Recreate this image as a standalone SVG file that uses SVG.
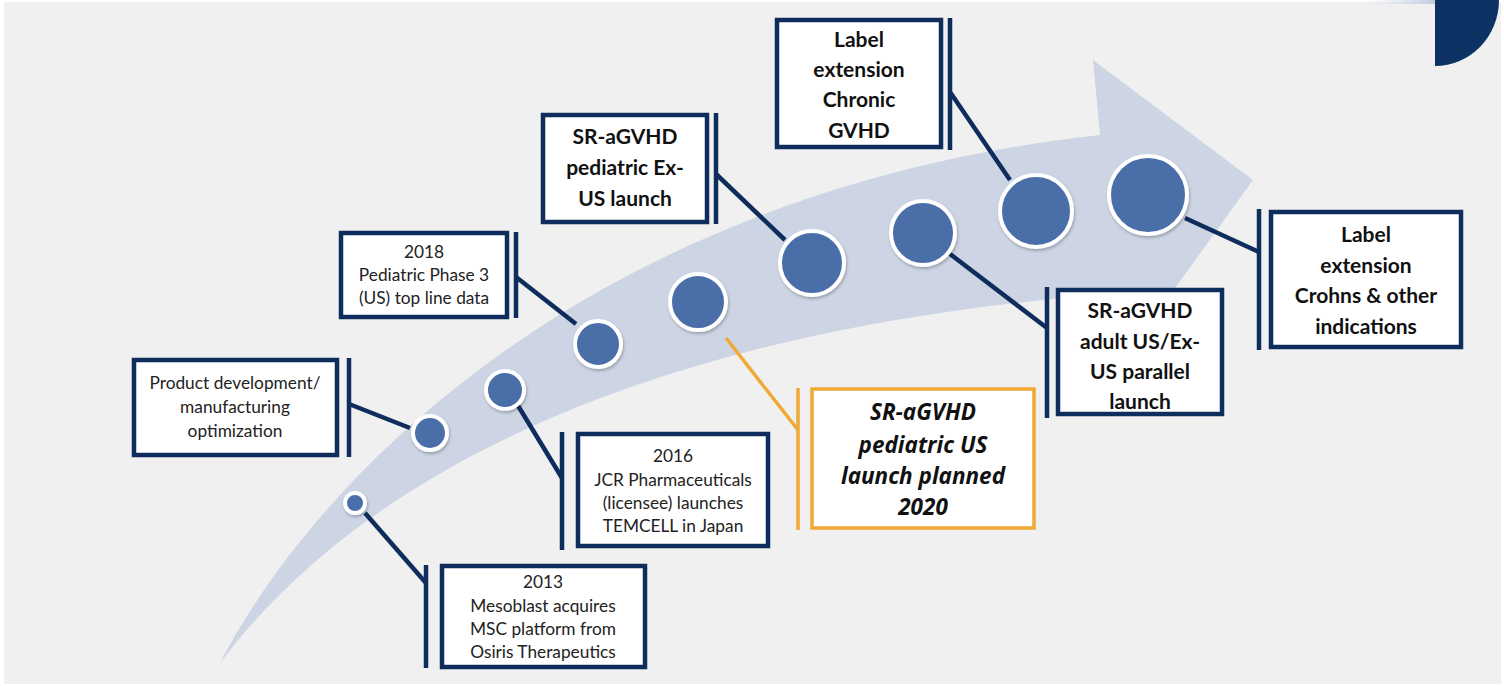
<svg xmlns="http://www.w3.org/2000/svg" width="1504" height="686" viewBox="0 0 1504 686">
<style>
.box{fill:#ffffff;stroke:#0f2d5c;stroke-width:4.5}
.ybox{fill:#ffffff;stroke:#f0a935;stroke-width:3.5}
.bar{stroke:#0f2d5c;stroke-width:4.5;fill:none}
.ybar{stroke:#f0a935;stroke-width:3.5;fill:none}
.dot{fill:#4a6ea8;stroke:#ffffff;stroke-width:4}
.t{font-family:Lato,"Liberation Sans",sans-serif;font-size:17.3px;fill:#222;text-anchor:middle}
.b{font-family:Lato,"Liberation Sans",sans-serif;font-size:21px;font-weight:bold;fill:#111;text-anchor:middle}
.bi{font-family:"Open Sans","Liberation Sans",sans-serif;font-size:22.5px;font-weight:bold;font-style:italic;fill:#111;text-anchor:middle}
</style>
<defs>
<filter id="sh" x="-30%" y="-30%" width="160%" height="160%"><feDropShadow dx="1" dy="2" stdDeviation="1.5" flood-color="#000" flood-opacity="0.25"/></filter>
<linearGradient id="strip" x1="0" x2="1" y1="0" y2="0"><stop offset="0" stop-color="#dfe5ee" stop-opacity="0"/><stop offset="1" stop-color="#b8c6db"/></linearGradient>
</defs>
<rect x="0" y="0" width="1504" height="686" fill="#ffffff"/>
<rect x="4" y="2" width="1497" height="682" fill="#f0f0f0"/>
<rect x="1360" y="0" width="80" height="4" fill="url(#strip)"/>
<path d="M1435,0 L1499,0 A64,66 0 0 1 1435,66 Z" fill="#0c3163"/>
<path id="band" d="M220,663 C320,470 600,190 1100,135 L1093,60 L1253,180 L1165,302 L1140,292 C700,320 380,450 220,663 Z" fill="#cdd5e4"/>
<g id="connectors">
<line class="bar" x1="349" y1="358" x2="349" y2="457"/>
<line class="bar" x1="349" y1="404" x2="410" y2="428"/>
<line class="bar" x1="516" y1="232" x2="516" y2="318"/>
<line class="bar" x1="516" y1="277" x2="576" y2="324"/>
<line class="bar" x1="562" y1="432" x2="562" y2="550"/>
<line class="bar" x1="517" y1="404" x2="562" y2="478"/>
<line class="bar" x1="426" y1="565" x2="426" y2="668"/>
<line class="bar" x1="365" y1="513" x2="426" y2="583"/>
<line class="bar" x1="716" y1="113" x2="716" y2="224"/>
<line class="bar" x1="716" y1="174" x2="785" y2="240"/>
<line class="bar" x1="950" y1="18" x2="950" y2="150"/>
<line class="bar" x1="950" y1="92" x2="1010" y2="180"/>
<line class="bar" x1="1047" y1="287" x2="1047" y2="418"/>
<line class="bar" x1="950" y1="254" x2="1047" y2="328"/>
<line class="bar" x1="1259" y1="209" x2="1259" y2="350"/>
<line class="bar" x1="1185" y1="218" x2="1259" y2="252"/>
<line class="ybar" x1="798" y1="388" x2="798" y2="530"/>
<line class="ybar" x1="726" y1="338" x2="798" y2="430"/>
</g>
<g id="dots" filter="url(#sh)">
<circle id="d1" class="dot" cx="355" cy="503" r="10" stroke-width="3.5"/>
<circle id="d2" class="dot" cx="430" cy="433" r="17"/>
<circle id="d3" class="dot" cx="505" cy="390" r="19"/>
<circle id="d4" class="dot" cx="598" cy="344" r="23"/>
<circle id="d5" class="dot" cx="698" cy="302" r="28"/>
<circle id="d6" class="dot" cx="812" cy="263" r="32"/>
<circle id="d7" class="dot" cx="923" cy="233" r="32"/>
<circle id="d8" class="dot" cx="1036" cy="211" r="36"/>
<circle id="d9" class="dot" cx="1148" cy="195" r="39"/>
</g>
<g id="n-product">
<rect class="box" x="134" y="360" width="203" height="95"/>
<text class="t" x="235" y="389">Product  development/</text>
<text class="t" x="235" y="413">manufacturing</text>
<text class="t" x="235" y="437">optimization</text>
</g>
<g id="n-2018">
<rect class="box" x="341" y="233" width="166" height="84"/>
<text class="t" x="424" y="258">2018</text>
<text class="t" x="424" y="281">Pediatric Phase 3</text>
<text class="t" x="424" y="304">(US) top  line data</text>
</g>
<g id="n-2016">
<rect class="box" x="578" y="434" width="190" height="112"/>
<text class="t" x="673" y="462">2016</text>
<text class="t" x="673" y="486">JCR Pharmaceuticals</text>
<text class="t" x="673" y="509">(licensee) launches</text>
<text class="t" x="673" y="532">TEMCELL in Japan</text>
</g>
<g id="n-2013">
<rect class="box" x="442" y="566" width="203" height="101"/>
<text class="t" x="543" y="588">2013</text>
<text class="t" x="543" y="612">Mesoblast acquires</text>
<text class="t" x="543" y="635">MSC platform  from</text>
<text class="t" x="543" y="658">Osiris Therapeutics</text>
</g>
<g id="n-exus">
<rect class="box" x="543" y="115" width="164" height="107"/>
<text class="b" x="625" y="144">SR-aGVHD</text>
<text class="b" x="625" y="175">pediatric  Ex-</text>
<text class="b" x="625" y="206">US launch</text>
</g>
<g id="n-chronic">
<rect class="box" x="777" y="20" width="164" height="127"/>
<text class="b" x="859" y="47">Label</text>
<text class="b" x="859" y="77">extension</text>
<text class="b" x="859" y="107">Chronic</text>
<text class="b" x="859" y="138">GVHD</text>
</g>
<g id="n-adult">
<rect class="box" x="1058" y="290" width="164" height="124"/>
<text class="b" x="1140" y="318">SR-aGVHD</text>
<text class="b" x="1140" y="349">adult  US/Ex-</text>
<text class="b" x="1140" y="379">US parallel</text>
<text class="b" x="1140" y="409">launch</text>
</g>
<g id="n-crohns">
<rect class="box" x="1271" y="212" width="190" height="135"/>
<text class="b" x="1366" y="242">Label</text>
<text class="b" x="1366" y="273">extension</text>
<text class="b" x="1366" y="303">Crohns  &amp; other</text>
<text class="b" x="1366" y="334">indications</text>
</g>
<g id="n-us">
<rect class="ybox" x="812" y="389" width="222" height="139"/>
<text class="bi" x="923" y="420">SR-aGVHD</text>
<text class="bi" x="923" y="453">pediatric  US</text>
<text class="bi" x="923" y="484">launch planned</text>
<text class="bi" x="923" y="515">2020</text>
</g>
</svg>
